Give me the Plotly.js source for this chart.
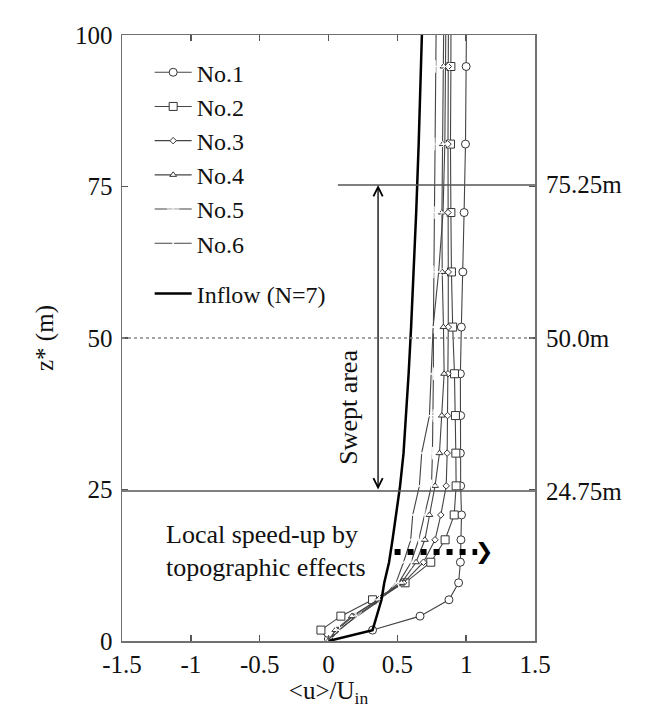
<!DOCTYPE html>
<html>
<head>
<meta charset="utf-8">
<script src="https://cdn.plot.ly/plotly-3.0.1.min.js"></script>
<style>html,body{margin:0;padding:0;background:#fff;}#chart{width:656px;height:708px;}</style>
</head>
<body>
<div id="chart"></div>
<script>
// Heights (m) of the profile points
const zLevels = [0, 1.8, 4.1, 6.8, 9.6, 13.0, 16.7, 20.8, 25.6, 31.0, 37.2, 44.1, 51.8, 60.9, 70.7, 82.0, 94.8, 109.0];
// <u>/U_in for each profile
const no1 = [0, 0.32, 0.665, 0.875, 0.945, 0.958, 0.962, 0.966, 0.960, 0.958, 0.960, 0.958, 0.965, 0.976, 0.985, 0.995, 1.000, 1.005];
const no2 = [0, -0.055, 0.09, 0.32, 0.556, 0.743, 0.847, 0.913, 0.927, 0.925, 0.922, 0.915, 0.902, 0.893, 0.889, 0.886, 0.889, 0.890];
const no3 = [0, 0.06, 0.18, 0.36, 0.545, 0.690, 0.774, 0.816, 0.855, 0.862, 0.865, 0.868, 0.870, 0.870, 0.868, 0.868, 0.870, 0.872];
const no4 = [0, 0.05, 0.17, 0.36, 0.53, 0.636, 0.700, 0.733, 0.774, 0.806, 0.823, 0.840, 0.835, 0.826, 0.824, 0.830, 0.835, 0.840];
const no5 = [0, 0.08, 0.20, 0.37, 0.51, 0.600, 0.655, 0.700, 0.748, 0.755, 0.760, 0.762, 0.762, 0.765, 0.768, 0.772, 0.776, 0.785];
const no6 = [0, 0.07, 0.21, 0.38, 0.49, 0.545, 0.597, 0.612, 0.660, 0.677, 0.733, 0.745, 0.760, 0.800, 0.832, 0.845, 0.850, 0.855];
const inflow = [0, 0.32, 0.35, 0.385, 0.405, 0.44, 0.465, 0.49, 0.52, 0.545, 0.565, 0.582, 0.60, 0.62, 0.637, 0.655, 0.672, 0.69];

const seriesNames = ['No.1', 'No.2', 'No.3', 'No.4', 'No.5', 'No.6'];
const inflowName = 'Inflow (N=7)';
const xTickVals = [-1.5, -1, -0.5, 0, 0.5, 1, 1.5];
const xTickText = ['-1.5', '-1', '-0.5', '0', '0.5', '1', '1.5'];
const yTickVals = [0, 25, 50, 75, 100];
const yTickText = ['0', '25', '50', '75', '100'];
const refHeights = [75.25, 50.0, 24.75];
const refLabels = ['75.25m', '50.0m', '24.75m'];

const FONT = 'Liberation Serif, Times New Roman, serif';
const FS = 25;
const lineCol = '#444';
const symbols = ['circle', 'square', 'diamond', 'triangle-up', 'cross-thin-open', 'x-thin-open'];
const sizes = [8, 8, 5, 6, 9, 8];
const allSeries = [no1, no2, no3, no4, no5, no6];

const traces = allSeries.map((vals, i) => ({
  x: vals, y: zLevels, name: seriesNames[i], type: 'scatter', mode: 'lines+markers',
  line: {color: lineCol, width: 1.1},
  marker: {symbol: symbols[i], size: sizes[i], color: '#ffffff', line: {color: '#333', width: 1}},
  legend: 'legend'
}));
traces.push({
  x: inflow, y: zLevels, name: inflowName, type: 'scatter', mode: 'lines',
  line: {color: '#000', width: 2.5}, legend: 'legend2'
});

const axisCommon = {
  showline: true, linecolor: '#707070', linewidth: 1.5, mirror: 'ticks',
  ticks: 'inside', ticklen: 6, tickcolor: '#555', tickwidth: 1.5,
  showgrid: false, zeroline: false, tickfont: {family: FONT, size: FS, color: '#111'}
};

const layout = {
  width: 656, height: 708,
  margin: {l: 122, r: 121, t: 35, b: 67},
  paper_bgcolor: '#fff', plot_bgcolor: '#fff',
  font: {family: FONT, size: FS, color: '#111'},
  showlegend: true,
  xaxis: Object.assign({}, axisCommon, {
    range: [-1.5, 1.5], tickmode: 'array', tickvals: xTickVals, ticktext: xTickText,
    title: {text: '&lt;u&gt;/U<sub>in</sub>', font: {family: FONT, size: FS}, standoff: 0}
  }),
  yaxis: Object.assign({}, axisCommon, {
    range: [0, 100], tickmode: 'array', tickvals: yTickVals, ticktext: yTickText,
    ticklabelstandoff: 3,
    title: {text: 'z* (m)', font: {family: FONT, size: FS}, standoff: 14}
  }),
  legend: {
    x: 0.067, y: 0.975, xanchor: 'left', yanchor: 'top', bgcolor: 'rgba(255,255,255,0)',
    font: {family: FONT, size: 24, color: '#111'}, tracegroupgap: 0, itemwidth: 37
  },
  legend2: {
    x: 0.067, y: 0.61, xanchor: 'left', yanchor: 'top', bgcolor: 'rgba(255,255,255,0)',
    font: {family: FONT, size: 24, color: '#111'}, itemwidth: 37
  },
  shapes: [
    {type: 'line', xref: 'x', yref: 'y', x0: 0.068, x1: 1.5, y0: refHeights[0], y1: refHeights[0], line: {color: '#555', width: 1.5}},
    {type: 'line', xref: 'paper', yref: 'y', x0: 0, x1: 1, y0: refHeights[1], y1: refHeights[1], line: {color: '#888', width: 1.5, dash: 'dot'}},
    {type: 'line', xref: 'paper', yref: 'y', x0: 0, x1: 1, y0: refHeights[2], y1: refHeights[2], line: {color: '#555', width: 1.5}},
    {type: 'line', xref: 'x', yref: 'y', x0: 0.48, x1: 1.08, y0: 14.7, y1: 14.7, line: {color: '#000', width: 6, dash: '6px,7px'}}
  ],
  annotations: [
    {x: 0.36, y: refHeights[0], ax: 0.36, ay: refHeights[2], xref: 'x', yref: 'y', axref: 'x', ayref: 'y',
     text: '', showarrow: true, arrowside: 'end+start', arrowhead: 5, startarrowhead: 5, arrowsize: 1.4, startarrowsize: 1.4, arrowwidth: 1.3, arrowcolor: '#000'},
    {x: 1.13, y: 14.7, xref: 'x', yref: 'y', text: '<b>❯</b>', showarrow: false,
     font: {family: 'DejaVu Sans', size: 22, color: '#000'}},
    {x: 0.15, y: 38.5, xref: 'x', yref: 'y', text: 'Swept area', textangle: -90, showarrow: false, font: {family: FONT, size: 26, color: '#111'}},
    {x: -1.195, y: 17.6, xref: 'x', yref: 'y', xanchor: 'left', text: 'Local speed-up by', showarrow: false, font: {family: FONT, size: 26, color: '#111'}},
    {x: -1.195, y: 12.1, xref: 'x', yref: 'y', xanchor: 'left', text: 'topographic effects', showarrow: false, font: {family: FONT, size: 26, color: '#111'}}
  ].concat(refHeights.map((h, i) => ({
    x: 1, xref: 'paper', y: h, yref: 'y', xanchor: 'left', xshift: 9, text: refLabels[i], showarrow: false,
    font: {family: FONT, size: FS, color: '#111'}
  })))
};

Plotly.newPlot('chart', traces, layout, {displayModeBar: false, staticPlot: true});
</script>
</body>
</html>
